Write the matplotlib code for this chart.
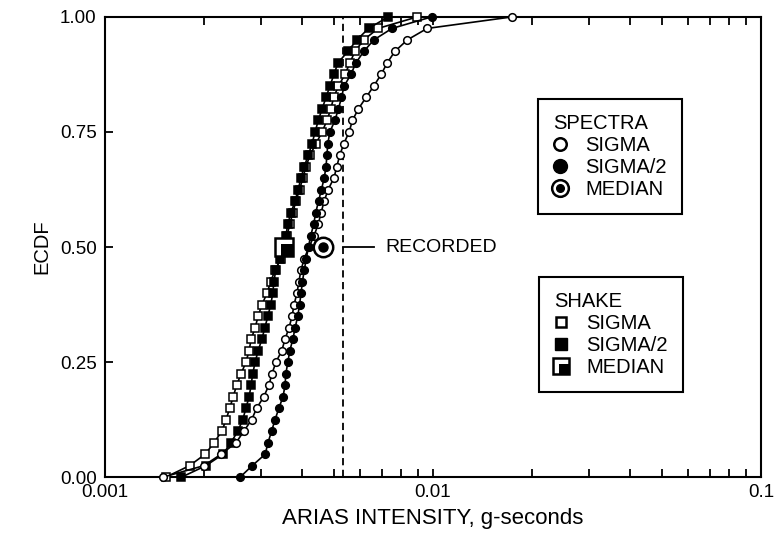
import matplotlib.pyplot as plt
import numpy as np
from matplotlib.legend_handler import HandlerTuple
from matplotlib.lines import Line2D
from matplotlib.path import Path
from matplotlib.ticker import FixedLocator, LogLocator, NullFormatter, FixedFormatter

plt.rcParams['font.family'] = ['Liberation Sans', 'DejaVu Sans']

# Arias intensity (x 0.001 g-s), sorted per simulation set
shake_sigma = np.array([1.53, 1.81, 2.02, 2.15, 2.27, 2.34, 2.40, 2.46, 2.52, 2.60,
                        2.69, 2.75, 2.79, 2.87, 2.93, 3.01, 3.12, 3.20, 3.30, 3.44,
                        3.51, 3.59, 3.66, 3.74, 3.82, 3.92, 4.01, 4.10, 4.22, 4.40,
                        4.59, 4.75, 4.88, 4.98, 5.15, 5.39, 5.58, 5.78, 6.15, 6.80,
                        8.95]) * 1e-3
shake_sigma2 = np.array([1.71, 2.03, 2.29, 2.42, 2.54, 2.63, 2.69, 2.75, 2.79, 2.82,
                         2.87, 2.93, 3.01, 3.07, 3.14, 3.20, 3.25, 3.27, 3.32, 3.42,
                         3.51, 3.56, 3.61, 3.69, 3.80, 3.88, 3.96, 4.05, 4.17, 4.28,
                         4.37, 4.47, 4.59, 4.72, 4.85, 4.99, 5.13, 5.50, 5.86, 6.36,
                         7.30]) * 1e-3
spectra_sigma = np.array([1.50, 2.00, 2.26, 2.51, 2.65, 2.80, 2.90, 3.05, 3.16, 3.23,
                          3.32, 3.46, 3.54, 3.64, 3.72, 3.77, 3.85, 3.90, 3.96, 4.05,
                          4.19, 4.34, 4.47, 4.56, 4.66, 4.79, 4.99, 5.09, 5.20, 5.35,
                          5.55, 5.68, 5.92, 6.25, 6.60, 6.95, 7.25, 7.65, 8.35, 9.60,
                          17.4]) * 1e-3
spectra_sigma2 = np.array([2.58, 2.81, 3.08, 3.14, 3.22, 3.30, 3.39, 3.49, 3.54, 3.56,
                           3.61, 3.66, 3.74, 3.80, 3.87, 3.92, 3.96, 4.00, 4.05, 4.11,
                           4.17, 4.24, 4.33, 4.39, 4.48, 4.57, 4.66, 4.72, 4.75, 4.78,
                           4.85, 5.02, 5.15, 5.26, 5.36, 5.62, 5.82, 6.15, 6.60, 7.50,
                           9.90]) * 1e-3

recorded = 0.0053
spectra_median = 0.00462
shake_median = 0.00352


def ecdf(v):
    v = np.sort(v)
    return v, np.linspace(0, 1, len(v))


# filled square sitting in the lower-right part of the open median square
corner_sq = Path([(-0.3, -1), (1, -1), (1, 0.3), (-0.3, 0.3), (-0.3, -1)],
                 [Path.MOVETO, Path.LINETO, Path.LINETO, Path.LINETO, Path.CLOSEPOLY])

fig = plt.figure(figsize=(7.78, 5.46), dpi=100)
ax = fig.add_subplot(111)
fig.subplots_adjust(left=0.135, right=0.978, top=0.969, bottom=0.126)

line_kw = dict(color='k', lw=1.2, ms=5.5, mec='k', mew=1.1, clip_on=False, zorder=3)
ax.plot(*ecdf(shake_sigma), marker='s', mfc='white', **line_kw)
ax.plot(*ecdf(shake_sigma2), marker='s', mfc='k', **line_kw)
ax.plot(*ecdf(spectra_sigma), marker='o', mfc='white', **line_kw)
ax.plot(*ecdf(spectra_sigma2), marker='o', mfc='k', **line_kw)

# medians
ax.plot(spectra_median, 0.5, marker='o', ms=14, mfc='white', mec='k', mew=1.8, zorder=4)
ax.plot(spectra_median, 0.5, marker='o', ms=6.5, mfc='k', mec='k', zorder=5)
ax.plot(shake_median, 0.5, marker='s', ms=13, mfc='white', mec='k', mew=1.8, zorder=4)
ax.plot(shake_median, 0.5, marker=corner_sq, ms=13, mfc='k', mec='k', mew=0, zorder=5)

# recorded
ax.axvline(recorded, color='k', ls=(0, (4, 2.5)), lw=1.3, zorder=2)
ax.plot([recorded, 0.0066], [0.5, 0.5], color='k', lw=1.3)
ax.text(0.00715, 0.5, 'RECORDED', va='center', ha='left', fontsize=14)

ax.set_xscale('log')
ax.set_xlim(0.001, 0.1)
ax.set_ylim(0, 1)
ax.xaxis.set_major_locator(FixedLocator([0.001, 0.01, 0.1]))
ax.xaxis.set_major_formatter(FixedFormatter(['0.001', '0.01', '0.1']))
ax.xaxis.set_minor_locator(LogLocator(base=10, subs=np.arange(2, 10)))
ax.xaxis.set_minor_formatter(NullFormatter())
ax.set_yticks([0, 0.25, 0.5, 0.75, 1.0])
ax.set_yticklabels(['0.00', '0.25', '0.50', '0.75', '1.00'])

ax.tick_params(axis='x', which='both', direction='in', top=True, bottom=True,
               length=6, width=1.3, labelsize=13.5, pad=5)
ax.tick_params(axis='y', which='major', direction='in', left=True, right=False,
               length=6, width=1.3, labelsize=13.5, pad=6)
for s in ax.spines.values():
    s.set_linewidth(1.5)

ax.set_xlabel('ARIAS INTENSITY, g-seconds', fontsize=16, labelpad=5)
ax.set_ylabel('ECDF', fontsize=14.5, labelpad=6)

# legends
leg_kw = dict(loc='upper right', frameon=True, fancybox=False, edgecolor='k',
              framealpha=1, handler_map={tuple: HandlerTuple(ndivide=1, pad=0)},
              alignment='left', handlelength=0.7, handletextpad=0.9, borderpad=0.75,
              labelspacing=0.15, fontsize=14.5, title_fontsize=14.5, borderaxespad=0)

h_sp = [Line2D([], [], ls='none', marker='o', ms=9, mfc='white', mec='k', mew=1.8),
        Line2D([], [], ls='none', marker='o', ms=10, mfc='k', mec='k'),
        (Line2D([], [], ls='none', marker='o', ms=12, mfc='white', mec='k', mew=1.8),
         Line2D([], [], ls='none', marker='o', ms=5.5, mfc='k', mec='k'))]
leg1 = ax.legend(h_sp, ['SIGMA', 'SIGMA/2', 'MEDIAN'], title='SPECTRA',
                 bbox_to_anchor=(0.88, 0.822), **leg_kw)
leg1.get_frame().set_linewidth(1.5)
ax.add_artist(leg1)

h_sh = [Line2D([], [], ls='none', marker='s', ms=7.5, mfc='white', mec='k', mew=1.8),
        Line2D([], [], ls='none', marker='s', ms=9, mfc='k', mec='k'),
        (Line2D([], [], ls='none', marker='s', ms=11, mfc='white', mec='k', mew=1.8),
         Line2D([], [], ls='none', marker=corner_sq, ms=11, mfc='k', mec='k', mew=0))]
leg2 = ax.legend(h_sh, ['SIGMA', 'SIGMA/2', 'MEDIAN'], title='SHAKE',
                 bbox_to_anchor=(0.881, 0.435), **leg_kw)
leg2.get_frame().set_linewidth(1.5)

plt.savefig('out.png', dpi=100)
